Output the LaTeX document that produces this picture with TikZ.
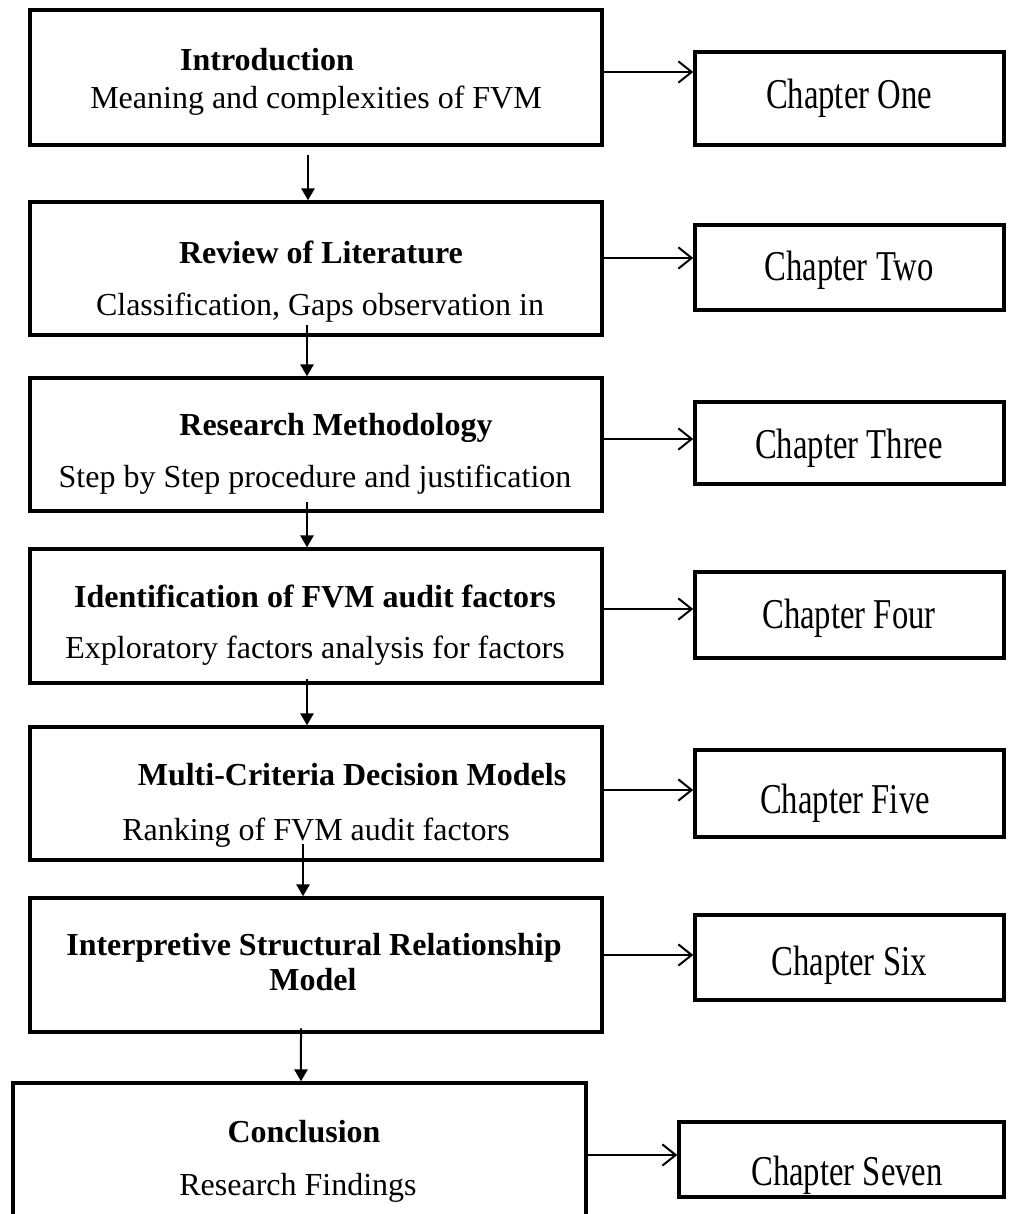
\documentclass[tikz,border=0pt]{standalone}
\usepackage{graphicx}
\usepackage{fontspec}
\setmainfont{Liberation Serif}
\usetikzlibrary{arrows.meta}
% chapter labels are set a little taller than wide
\newcommand{\tallchap}[1]{\scalebox{1}[1.3]{#1}}
\begin{document}
\begin{tikzpicture}[x=0.75pt,y=-0.75pt,
  stagebox/.style={draw, line width=2.6pt, inner sep=0pt, minimum width=429pt},
  chapbox/.style={draw, line width=2.6pt, inner sep=0pt, minimum width=231.75pt},
  ttl/.style={font=\fontsize{24}{28}\selectfont\bfseries, anchor=base, inner sep=0pt},
  sub/.style={font=\fontsize{24}{28}\selectfont, anchor=base, inner sep=0pt},
  chap/.style={font=\fontsize{24.5}{28}\selectfont, anchor=base, inner sep=0pt},
  down/.style={line width=1.5pt, -{Triangle[length=9pt,width=10pt]}},
  side/.style={line width=1.5pt, -{Straight Barb[length=10pt,width=16pt,line width=1.5pt]}}]
\useasboundingbox (0,0) rectangle (1010,1214);

% main stages
\node[stagebox, minimum height=101.25pt] (b1) at (316,77.5) {};
\node[stagebox, minimum height=99.75pt]  (b2) at (316,268.5) {};
\node[stagebox, minimum height=99.75pt]  (b3) at (316,444.5) {};
\node[stagebox, minimum height=100.5pt]  (b4) at (316,616) {};
\node[stagebox, minimum height=99.75pt]  (b5) at (316,793.5) {};
\node[stagebox, minimum height=100.5pt]  (b6) at (316,965) {};
\node[stagebox, minimum width=429.75pt, minimum height=125.25pt] (b7) at (299.5,1166.5) {};

% stage texts
\node[ttl] (t1) at (267,70)  {Introduction};
\node[sub] (s1) at (316,108) {Meaning and complexities of FVM};
\node[ttl] (t2) at (321,263) {Review of Literature};
\node[sub] (s2) at (320,315) {Classification, Gaps observation in};
\node[ttl] (t3) at (336,435) {Research Methodology};
\node[sub] (s3) at (315,487) {Step by Step procedure and justification};
\node[ttl] (t4) at (315,607) {Identification of FVM audit factors};
\node[sub] (s4) at (315,658) {Exploratory factors analysis for factors};
\node[ttl] (t5) at (352,785) {Multi-Criteria Decision Models};
\node[sub] (s5) at (316,840) {Ranking of FVM audit factors};
\node[ttl] (t6) at (314,955) {Interpretive Structural Relationship};
\node[ttl] (t6b) at (313,990) {Model};
\node[ttl] (t7) at (304,1142) {Conclusion};
\node[sub] (s7) at (298,1195) {Research Findings};

% chapter boxes
\node[chapbox, minimum height=69.75pt] (c1) at (849.5,98.5) {};
\node[chapbox, minimum height=63.75pt] (c2) at (849.5,267.5) {};
\node[chapbox, minimum height=61.5pt]  (c3) at (849.5,443) {};
\node[chapbox, minimum height=64.5pt]  (c4) at (849.5,615) {};
\node[chapbox, minimum height=65.25pt] (c5) at (849.5,793.5) {};
\node[chapbox, minimum height=63.75pt] (c6) at (849.5,957.5) {};
\node[chapbox, minimum width=243.75pt, minimum height=56.25pt] (c7) at (841.5,1159.5) {};

\node[chap] (h1) at (849,108)  {\tallchap{Chapter One}};
\node[chap] (h2) at (849,280)  {\tallchap{Chapter Two}};
\node[chap] (h3) at (849,458)  {\tallchap{Chapter Three}};
\node[chap] (h4) at (849,628)  {\tallchap{Chapter Four}};
\node[chap] (h5) at (845,813)  {\tallchap{Chapter Five}};
\node[chap] (h6) at (849,975)  {\tallchap{Chapter Six}};
\node[chap] (h7) at (847,1185) {\tallchap{Chapter Seven}};

% heights of the side arrows
\coordinate (a1) at (650,72);
\coordinate (a2) at (650,258);
\coordinate (a3) at (650,439);
\coordinate (a4) at (650,609);
\coordinate (a5) at (650,790);
\coordinate (a6) at (650,955);
\coordinate (a7) at (640,1155);

% flow down the stages
\draw[down, shorten <=6pt]   ([xshift=-6pt]b1.south) -- ([xshift=-6pt]b2.north);
\draw[down, shorten <=-9pt]  ([xshift=-6.75pt]b2.south) -- ([xshift=-6.75pt]b3.north);
\draw[down, shorten <=-8pt]  ([xshift=-6.75pt]b3.south) -- ([xshift=-6.75pt]b4.north);
\draw[down, shorten <=-4pt]  ([xshift=-6.75pt]b4.south) -- ([xshift=-6.75pt]b5.north);
\draw[down, shorten <=-13pt] ([xshift=-9.75pt]b5.south) -- ([xshift=-9.75pt]b6.north);
\draw[down, shorten <=-4pt]  ([xshift=-11.25pt]b6.south) -- ([xshift=1.1pt]b7.north);

% stage to chapter
\draw[side] (b1.east |- a1) -- (c1.west |- a1);
\draw[side] (b2.east |- a2) -- (c2.west |- a2);
\draw[side] (b3.east |- a3) -- (c3.west |- a3);
\draw[side] (b4.east |- a4) -- (c4.west |- a4);
\draw[side] (b5.east |- a5) -- (c5.west |- a5);
\draw[side] (b6.east |- a6) -- (c6.west |- a6);
\draw[side] (b7.east |- a7) -- (c7.west |- a7);
\end{tikzpicture}
\end{document}
